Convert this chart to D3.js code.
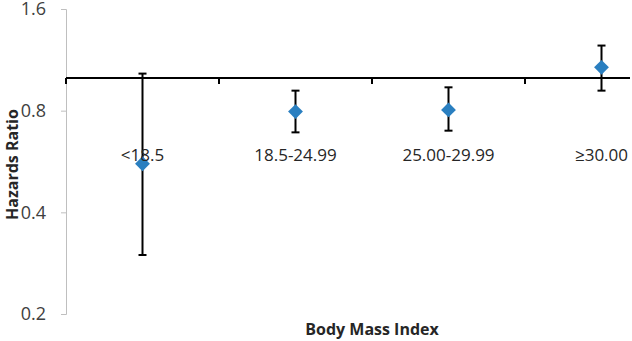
<!DOCTYPE html>
<html>
<head>
<meta charset="utf-8">
<script src="https://cdn.jsdelivr.net/npm/d3@7"></script>
<style>
  html, body { margin: 0; padding: 0; background: #fff; }
  svg { display: block; }
  text { font-family: "Open Sans", sans-serif; }
</style>
</head>
<body>
<svg id="chart" width="632" height="341"></svg>
<script>
const categories = ["<18.5", "18.5-24.99", "25.00-29.99", "\u226530.00"];
const hr = [0.557, 0.795, 0.804, 1.075];
const lower = [0.299, 0.690, 0.698, 0.917];
const upper = [1.030, 0.917, 0.938, 1.247];
const yTicks = [0.2, 0.4, 0.8, 1.6];
const refValue = 1.0;

const svg = d3.select("#chart");
const axisX = 66;

const y = d3.scaleLog().domain([0.2, 1.6]).range([314, 9]);
const x = d3.scaleBand().domain(categories).range([axisX, axisX + 4 * 153]).padding(0);

// Y axis
const yAxis = d3.axisLeft(y).tickValues(yTicks).tickFormat(d3.format(".1f")).tickSizeOuter(0).tickSize(5).tickPadding(15);
const gy = svg.append("g").attr("transform", `translate(${axisX},0)`).call(yAxis);
gy.select(".domain").attr("stroke", "#bfbfbf").attr("stroke-width", 1);
gy.selectAll(".tick line").attr("stroke", "#bfbfbf");
gy.selectAll(".tick text").attr("fill", "#404040").style("font-size", "18px").style("font-family", "'Open Sans', sans-serif");

// Reference line at HR = 1 (category axis)
const yRef = y(refValue);
svg.append("line")
  .attr("x1", axisX).attr("x2", 630)
  .attr("y1", yRef).attr("y2", yRef)
  .attr("stroke", "#000").attr("stroke-width", 2);

// category boundary ticks
const bounds = categories.map(c => x(c)).filter(v => v < 630);
svg.selectAll("line.ctick").data(bounds).enter().append("line")
  .attr("class", "ctick")
  .attr("x1", d => d).attr("x2", d => d)
  .attr("y1", yRef).attr("y2", yRef + 6)
  .attr("stroke", "#000").attr("stroke-width", 2);

// error bars
const pts = categories.map((c, i) => ({c, v: hr[i], lo: lower[i], hi: upper[i]}));
const cx = d => x(d.c) + x.bandwidth() / 2;
const g = svg.append("g");
g.selectAll("line.err").data(pts).enter().append("line")
  .attr("x1", cx).attr("x2", cx)
  .attr("y1", d => y(d.lo)).attr("y2", d => y(d.hi))
  .attr("stroke", "#000").attr("stroke-width", 2);
g.selectAll("line.capHi").data(pts).enter().append("line")
  .attr("x1", d => cx(d) - 4).attr("x2", d => cx(d) + 4)
  .attr("y1", d => y(d.hi)).attr("y2", d => y(d.hi))
  .attr("stroke", "#000").attr("stroke-width", 2);
g.selectAll("line.capLo").data(pts).enter().append("line")
  .attr("x1", d => cx(d) - 4).attr("x2", d => cx(d) + 4)
  .attr("y1", d => y(d.lo)).attr("y2", d => y(d.lo))
  .attr("stroke", "#000").attr("stroke-width", 2);

// diamonds
const diamond = d3.symbol().type(d3.symbolSquare).size(110);
g.selectAll("path.pt").data(pts).enter().append("path")
  .attr("d", diamond)
  .attr("transform", d => `translate(${cx(d)},${y(d.v)}) rotate(45)`)
  .attr("fill", "#2a7fc0");

// category labels (drawn over the marks, as in the reference)
svg.selectAll("text.cat").data(categories).enter().append("text")
  .attr("class", "cat")
  .attr("x", d => x(d) + x.bandwidth() / 2)
  .attr("y", 161)
  .attr("text-anchor", "middle")
  .attr("fill", "#262626")
  .style("font-size", "17px")
  .text(d => d);

// axis titles
svg.append("text")
  .attr("transform", `translate(18,${(107 + 222) / 2}) rotate(-90)`)
  .attr("text-anchor", "middle")
  .attr("fill", "#262626")
  .style("font-size", "16px").style("font-weight", "bold")
  .text("Hazards Ratio");

svg.append("text")
  .attr("x", 372).attr("y", 335)
  .attr("text-anchor", "middle")
  .attr("fill", "#262626")
  .style("font-size", "16px").style("font-weight", "bold")
  .text("Body Mass Index");
</script>
</body>
</html>
